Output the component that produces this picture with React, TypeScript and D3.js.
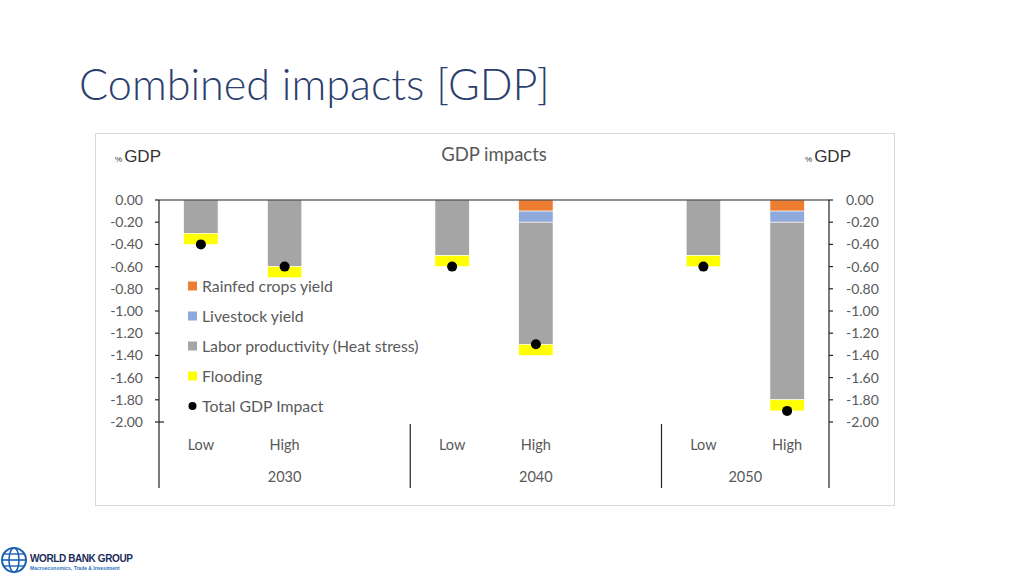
import React from 'react'
import * as d3 from 'd3'

// chart data
const years = ['2030', '2040', '2050']
const scenarios = ['Low', 'High']
const rainfedCrops = [0, 0, 0, -0.1, 0, -0.1]
const livestock = [0, 0, 0, -0.1, 0, -0.1]
const laborProductivity = [-0.3, -0.6, -0.5, -1.1, -0.5, -1.6]
const flooding = [-0.1, -0.1, -0.1, -0.1, -0.1, -0.1]
const totalImpact = [-0.4, -0.6, -0.6, -1.3, -0.6, -1.9]
const yTicks = [0, -0.2, -0.4, -0.6, -0.8, -1.0, -1.2, -1.4, -1.6, -1.8, -2.0]

const seriesKeys = ['rainfed', 'livestock', 'labor', 'flooding']
const seriesNames = ['Rainfed crops yield', 'Livestock yield', 'Labor productivity (Heat stress)', 'Flooding']
const seriesColors = ['#ED7D31', '#8EA9DB', '#A5A5A5', '#FFFF00']

const W = 1024
const H = 576
const left = 159
const right = 829
const top = 200
const bottom = 422

const txt = '#595959'
const labelFont = 'Lato, "Open Sans", sans-serif'

export default function App() {
  // slots: Low, High, (blank) for each year; last year has no blank
  const slots: string[] = []
  years.forEach((yr, i) => {
    scenarios.forEach((s) => slots.push(yr + '|' + s))
    if (i < years.length - 1) slots.push(yr + '|gap')
  })

  const x = d3.scaleBand<string>().domain(slots).range([left, right]).padding(0)
  const y = d3.scaleLinear().domain([-2, 0]).range([bottom, top])
  const barW = x.bandwidth() * 0.41

  const rows = years.flatMap((yr, gi) =>
    scenarios.map((s, si) => {
      const i = gi * scenarios.length + si
      return {
        key: yr + '|' + s,
        rainfed: rainfedCrops[i],
        livestock: livestock[i],
        labor: laborProductivity[i],
        flooding: flooding[i],
        total: totalImpact[i],
      }
    })
  )

  const stacked = d3
    .stack<any>()
    .keys(seriesKeys)
    .offset(d3.stackOffsetDiverging)(rows)

  const groupEdges = years.map((yr) => {
    const first = x(yr + '|' + scenarios[0])!
    const last = x(yr + '|' + scenarios[scenarios.length - 1])! + x.bandwidth()
    return { yr, first, last }
  })
  const separators = [left, ...groupEdges.slice(0, -1).map((g) => g.last + x.bandwidth()), right]

  return (
    <svg
      width={W}
      height={H}
      style={{ position: 'fixed', left: 0, top: 0, display: 'block', background: '#fff' }}
    >
      <rect width={W} height={H} fill="#fff" />
      <text x={79} y={100} fontFamily='Lato, "Open Sans", sans-serif' fontWeight={300} fontSize={43.2} fill="#2B3F6E">
        Combined impacts [GDP]
      </text>

      {/* chart frame */}
      <rect x={95.5} y={133.5} width={799} height={372} fill="#fff" stroke="#D9D9D9" />

      <text x={494} y={161} textAnchor="middle" fontFamily={labelFont} fontSize={18.5} fill={txt}>
        GDP impacts
      </text>
      <text x={115} y={162} fontFamily='"Liberation Sans", Arial, sans-serif' fill="#333">
        <tspan fontSize={8}>%</tspan>
        <tspan fontSize={17} dx={2}>GDP</tspan>
      </text>
      <text x={805} y={162} fontFamily='"Liberation Sans", Arial, sans-serif' fill="#333">
        <tspan fontSize={8}>%</tspan>
        <tspan fontSize={17} dx={2}>GDP</tspan>
      </text>

      {/* bars */}
      {stacked.map((layer, li) => (
        <g key={layer.key} fill={seriesColors[li]}>
          {layer.map((d) => {
            const h = y(d[0]) - y(d[1])
            if (Math.abs(h) < 0.01) return null
            const cx = x(d.data.key)! + x.bandwidth() / 2
            return (
              <rect
                key={d.data.key}
                x={cx - barW / 2}
                y={Math.min(y(d[0]), y(d[1]))}
                width={barW}
                height={Math.abs(h)}
                stroke="#fff"
                strokeWidth={0.6}
              />
            )
          })}
        </g>
      ))}

      {/* total dots */}
      {rows.map((r) => (
        <circle key={r.key} cx={x(r.key)! + x.bandwidth() / 2} cy={y(r.total)} r={5} fill="#000" />
      ))}

      {/* axes */}
      <line x1={left} x2={right} y1={y(0)} y2={y(0)} stroke="#222" strokeWidth={1.2} />
      <line x1={left} x2={left} y1={top} y2={488} stroke="#222" strokeWidth={1.2} />
      <line x1={right} x2={right} y1={top} y2={488} stroke="#222" strokeWidth={1.2} />
      {yTicks.map((t) => (
        <g key={t}>
          <line x1={left - 4} x2={left} y1={y(t)} y2={y(t)} stroke="#222" strokeWidth={1.2} />
          <line x1={right} x2={right + 4} y1={y(t)} y2={y(t)} stroke="#222" strokeWidth={1.2} />
          <text x={143} y={y(t)} dy="0.35em" textAnchor="end" fontFamily={labelFont} fontSize={14} fill={txt}>
            {t.toFixed(2)}
          </text>
          <text x={846} y={y(t)} dy="0.35em" fontFamily={labelFont} fontSize={14} fill={txt}>
            {t.toFixed(2)}
          </text>
        </g>
      ))}
      <line x1={left} x2={left + 5} y1={bottom} y2={bottom} stroke="#222" strokeWidth={1.2} />

      {/* category axis */}
      {separators.slice(1, -1).map((sx) => (
        <line key={sx} x1={sx} x2={sx} y1={424} y2={488} stroke="#222" strokeWidth={1.2} />
      ))}
      {rows.map((r) => (
        <text
          key={'c' + r.key}
          x={x(r.key)! + x.bandwidth() / 2}
          y={450}
          textAnchor="middle"
          fontFamily={labelFont}
          fontSize={14.5}
          fill={txt}
        >
          {r.key.split('|')[1]}
        </text>
      ))}
      {groupEdges.map((g, i) => (
        <text
          key={g.yr}
          x={(separators[i] + separators[i + 1]) / 2}
          y={482}
          textAnchor="middle"
          fontFamily={labelFont}
          fontSize={14.5}
          fill={txt}
        >
          {g.yr}
        </text>
      ))}

      {/* legend */}
      {seriesNames.map((n, i) => (
        <g key={n} transform={`translate(188, ${286 + i * 30})`}>
          <rect x={0} y={-4.5} width={9} height={9} fill={seriesColors[i]} />
          <text x={14} y={0} dy="0.35em" fontFamily={labelFont} fontSize={15.8} fill={txt}>
            {n}
          </text>
        </g>
      ))}
      <g transform={`translate(188, ${286 + 4 * 30})`}>
        <circle cx={4.5} cy={0} r={4} fill="#000" />
        <text x={14} y={0} dy="0.35em" fontFamily={labelFont} fontSize={15.8} fill={txt}>
          Total GDP Impact
        </text>
      </g>

      {/* logo */}
      <g transform="translate(14, 560)">
        <circle r={12} fill="none" stroke="#1F63B0" strokeWidth={2} />
        <ellipse rx={5} ry={12} fill="none" stroke="#1F63B0" strokeWidth={1.6} />
        <line x1={-12} x2={12} y1={0} y2={0} stroke="#1F63B0" strokeWidth={1.6} />
        <line x1={-10} x2={10} y1={-6} y2={-6} stroke="#1F63B0" strokeWidth={1.4} />
        <line x1={-10} x2={10} y1={6} y2={6} stroke="#1F63B0" strokeWidth={1.4} />
      </g>
      <text x={30} y={562} fontFamily='"Liberation Sans", Arial, sans-serif' fontWeight="bold" fontSize={10} fill="#1C2C5B" letterSpacing={-0.4}>
        WORLD BANK GROUP
      </text>
      <text x={30} y={570} fontFamily='"Liberation Sans", Arial, sans-serif' fontWeight="bold" fontSize={5} fill="#2E74C0">
        Macroeconomics, Trade &amp; Investment
      </text>
    </svg>
  )
}
